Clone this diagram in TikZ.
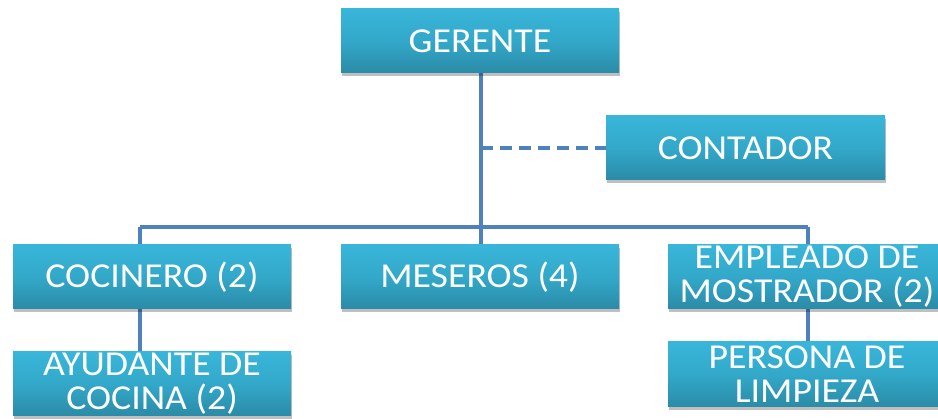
\documentclass[tikz,border=0pt]{standalone}
\usepackage{fontspec}
\setmainfont{Carlito}[FakeStretch=1.08]
\usetikzlibrary{shadows,backgrounds,calc}
\definecolor{linec}{HTML}{4F81BD}
\definecolor{boxtop}{HTML}{38B6DA}
\definecolor{boxmid}{HTML}{33A8C9}
\definecolor{boxbot}{HTML}{2A8BA7}
\tikzset{
  orgbox/.style={rectangle, minimum width=278pt, minimum height=64pt, inner sep=0pt,
    top color=boxtop, bottom color=boxbot, middle color=boxmid,
    drop shadow={shadow xshift=1pt, shadow yshift=-3pt, fill=black, opacity=0.25},
    text=white, align=center, font=\fontsize{35}{34}\selectfont},
  conn/.style={draw=linec, line width=3.5pt},
  dashconn/.style={conn, dash pattern=on 12pt off 7pt}
}
\begin{document}
\begin{tikzpicture}[x=1pt,y=-1pt]
\useasboundingbox (0,0) rectangle (938,419);
\node[orgbox] (gerente) at (480,41) {GERENTE};
\node[orgbox, minimum width=279pt] (contador) at (745.5,148) {CONTADOR};
\node[orgbox] (cocinero) at (152,277) {COCINERO (2)};
\node[orgbox] (meseros) at (480,277) {MESEROS (4)};
\node[orgbox] (empleado) at (807,277) {EMPLEADO DE\\MOSTRADOR (2)};
\node[orgbox] (ayudante) at (152,384) {AYUDANTE DE\\COCINA (2)};
\node[orgbox, minimum height=65pt] (persona) at (807,374.5) {PERSONA DE\\LIMPIEZA};
\coordinate (jl) at (140,227);
\coordinate (jr) at (808,227);
\coordinate (jm) at (481,227);
\begin{pgfonlayer}{background}
\draw[conn] (gerente.south -| jm) -- (jm |- meseros.north);
\draw[conn] (jl) -- (jr);
\draw[conn] (jl) -- (jl |- cocinero.north);
\draw[conn] (jr) -- (jr |- empleado.north);
\draw[conn] (jl |- cocinero.south) -- (jl |- ayudante.north);
\draw[conn] (jr |- empleado.south) -- (jr |- persona.north);
\draw[dashconn] (jm |- contador.west) -- (contador.west);
\end{pgfonlayer}
\end{tikzpicture}
\end{document}
